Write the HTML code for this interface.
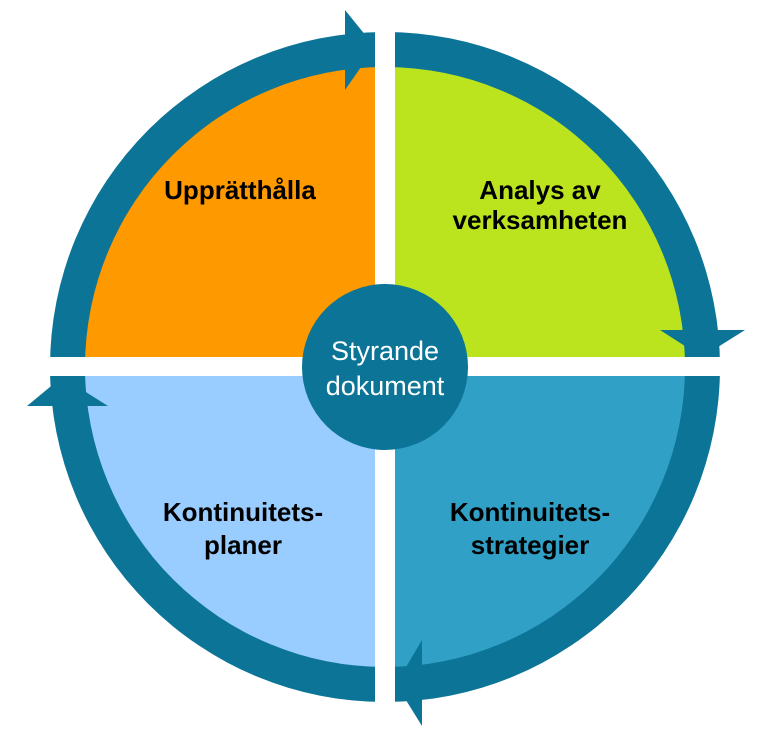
<!DOCTYPE html>
<html><head><meta charset="utf-8"><style>
html,body{margin:0;padding:0;background:#fff;width:774px;height:740px;overflow:hidden}
</style></head><body>
<svg width="774" height="740" viewBox="0 0 774 740" xmlns="http://www.w3.org/2000/svg">
<circle cx="385" cy="367" r="335" fill="#0B7497"/>
<path d="M385 367 L385 67 A300 300 0 0 0 85 367 Z" fill="#FF9900"/>
<path d="M385 367 L385 67 A300 300 0 0 1 685 367 Z" fill="#BBE41E"/>
<path d="M385 367 L685 367 A300 300 0 0 1 385 667 Z" fill="#31A0C6"/>
<path d="M385 367 L385 667 A300 300 0 0 1 85 367 Z" fill="#99CCFF"/>
<rect x="375" y="0" width="20" height="740" fill="#fff"/>
<rect x="0" y="357" width="774" height="19" fill="#fff"/>
<polygon points="345,10 345,90 375,47" fill="#0B7497"/>
<polygon points="660,330 745,330 702,357" fill="#0B7497"/>
<polygon points="422,640 422,726 396,684" fill="#0B7497"/>
<polygon points="27,406 108,406 62,377" fill="#0B7497"/>
<circle cx="385" cy="367" r="83" fill="#0B7497"/>
<g font-family="Liberation Sans, sans-serif" font-weight="bold" font-size="26" fill="#000" text-anchor="middle">
<text x="240" y="199">Upprätthålla</text>
<text x="540" y="199">Analys av</text>
<text x="540" y="229">verksamheten</text>
<text x="530" y="521">Kontinuitets-</text>
<text x="530" y="554">strategier</text>
<text x="243" y="521">Kontinuitets-</text>
<text x="243" y="554">planer</text>
</g>
<g font-family="Liberation Sans, sans-serif" font-size="27" fill="#fff" text-anchor="middle">
<text x="385" y="360">Styrande</text>
<text x="385" y="395">dokument</text>
</g>
</svg>
</body></html>
